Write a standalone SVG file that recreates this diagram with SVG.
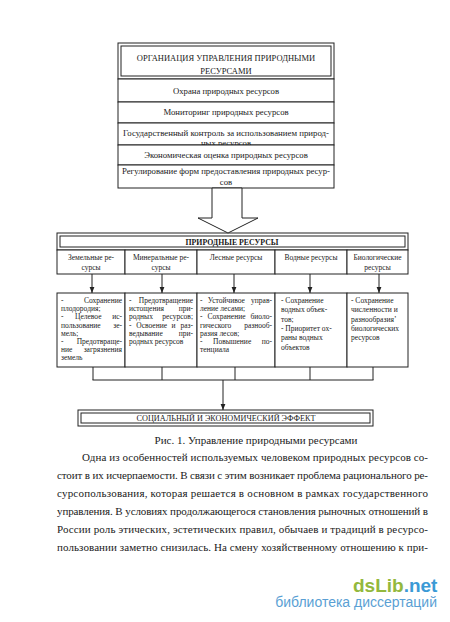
<svg xmlns="http://www.w3.org/2000/svg" width="450" height="622" viewBox="0 0 450 622">
<defs>
<marker id="ah" markerUnits="userSpaceOnUse" markerWidth="6" markerHeight="6" refX="6" refY="3" orient="auto"><path d="M0,0.6 L6,3 L0,5.4 z" fill="#222"/></marker>
</defs>
<style>
.b{fill:#fff;stroke:#222;stroke-width:1}
.ln{fill:none;stroke:#222;stroke-width:1}
text{font-family:"Liberation Serif","Times New Roman",serif;fill:#1a1a1a}
.tt{font-size:8.5px;text-anchor:middle}
.r{font-size:8.7px;text-anchor:middle}
.h{font-size:7.8px;font-weight:bold;text-anchor:middle}
.c{font-size:7.5px;text-anchor:middle}
.s{font-size:7.5px}
.e{text-anchor:end}
.p{font-size:11px}
</style>
<rect width="450" height="622" fill="#fff"/>

<g id="org-title">
<rect class="b" x="118" y="43" width="216" height="36"/>
<rect class="ln" x="121" y="46" width="210" height="30"/>
<text class="tt" x="226" y="61">ОРГАНИАЦИЯ УПРАВЛЕНИЯ ПРИРОДНЫМИ</text>
<text class="tt" x="226" y="74">РЕСУРСАМИ</text>
</g>
<g id="row-protection">
<rect class="b" x="118" y="79" width="216" height="23"/>
<text class="r" x="226" y="93.5">Охрана природных ресурсов</text>
</g>
<g id="row-monitoring">
<rect class="b" x="118" y="102" width="216" height="21"/>
<text class="r" x="226" y="115">Мониторинг природных ресурсов</text>
</g>
<g id="row-control">
<rect class="b" x="118" y="123" width="216" height="22"/>
<text class="r" x="226" y="136" textLength="206" lengthAdjust="spacingAndGlyphs">Государственный контроль за использованием природ-</text>
<text class="r" x="226" y="145.6">ных ресурсов</text>
</g>
<g id="row-economic">
<rect class="b" x="118" y="145" width="216" height="20"/>
<text class="r" x="226" y="158">Экономическая оценка природных ресурсов</text>
</g>
<g id="row-regulation">
<rect class="b" x="118" y="165" width="216" height="23"/>
<text class="r" x="226" y="174" textLength="208" lengthAdjust="spacingAndGlyphs">Регулирование форм предоставления природных ресур-</text>
<text class="r" x="226" y="185">сов</text>
</g>

<g id="natural-resources">
<rect class="b" x="57" y="233" width="351" height="17"/>
<rect class="ln" x="60" y="236" width="345" height="11"/>
<text class="h" x="232" y="245">ПРИРОДНЫЕ РЕСУРСЫ</text>
</g>
<g id="col-land">
<rect class="b" x="57" y="250" width="68" height="24"/>
<text class="c" x="91" y="260">Земельные ре-</text>
<text class="c" x="91" y="270">сурсы</text>
</g>
<g id="col-mineral">
<rect class="b" x="125" y="250" width="72" height="24"/>
<text class="c" x="161" y="260">Минеральные ре-</text>
<text class="c" x="161" y="270">сурсы</text>
</g>
<g id="col-forest">
<rect class="b" x="197" y="250" width="78" height="24"/>
<text class="c" x="236" y="260">Лесные ресурсы</text>
</g>
<g id="col-water">
<rect class="b" x="275" y="250" width="72" height="24"/>
<text class="c" x="311" y="260">Водные ресурсы</text>
</g>
<g id="col-bio">
<rect class="b" x="347" y="250" width="61" height="24"/>
<text class="c" x="377.5" y="260">Биологические</text>
<text class="c" x="377.5" y="270">ресурсы</text>
</g>

<g id="box-land">
<rect class="b" x="57" y="293" width="68" height="74"/>
<text class="s" y="303"><tspan x="61">-</tspan><tspan class="e" x="122">Сохранение</tspan></text>
<text class="s" x="61" y="311.2">плодородия;</text>
<text class="s" y="319.4"><tspan x="61">-</tspan><tspan x="75">Целевое</tspan><tspan class="e" x="122">ис-</tspan></text>
<text class="s" y="327.6"><tspan x="61">пользование</tspan><tspan class="e" x="122">зе-</tspan></text>
<text class="s" x="61" y="335.8">мель;</text>
<text class="s" y="344"><tspan x="61">-</tspan><tspan class="e" x="122">Предотвраще-</tspan></text>
<text class="s" y="352.2"><tspan x="61">ние</tspan><tspan class="e" x="122">загрязнения</tspan></text>
<text class="s" x="61" y="360.4">земель</text>
</g>
<g id="box-mineral">
<rect class="b" x="125" y="293" width="72" height="74"/>
<text class="s" y="303"><tspan x="129">-</tspan><tspan class="e" x="193">Предотвращение</tspan></text>
<text class="s" y="311.2"><tspan x="129">истощения</tspan><tspan class="e" x="193">при-</tspan></text>
<text class="s" y="319.4"><tspan x="129">родных</tspan><tspan class="e" x="193">ресурсов;</tspan></text>
<text class="s" y="327.6"><tspan x="129">-</tspan><tspan x="136.3">Освоение</tspan><tspan x="171.5">и</tspan><tspan class="e" x="193">раз-</tspan></text>
<text class="s" y="335.8"><tspan x="129">ведывание</tspan><tspan class="e" x="193">при-</tspan></text>
<text class="s" x="129" y="344">родных ресурсов</text>
</g>
<g id="box-forest">
<rect class="b" x="197" y="293" width="78" height="74"/>
<text class="s" y="303"><tspan x="200">-</tspan><tspan x="207.8">Устойчивое</tspan><tspan class="e" x="272">управ-</tspan></text>
<text class="s" x="200" y="311.2">ление лесами;</text>
<text class="s" y="319.4"><tspan x="200">-</tspan><tspan x="207.4">Сохранение</tspan><tspan class="e" x="272">биоло-</tspan></text>
<text class="s" y="327.6"><tspan x="200">гического</tspan><tspan class="e" x="272">разнооб-</tspan></text>
<text class="s" x="200" y="335.8">разия лесов;</text>
<text class="s" y="344"><tspan x="200">-</tspan><tspan x="213">Повышение</tspan><tspan class="e" x="272">по-</tspan></text>
<text class="s" x="200" y="352.2">тенциала</text>
</g>
<g id="box-water">
<rect class="b" x="275" y="293" width="72" height="74"/>
<text class="s" x="281" y="303">- Сохранение</text>
<text class="s" x="281" y="312.3">водных объек-</text>
<text class="s" x="281" y="321.6">тов;</text>
<text class="s" x="281" y="330.9">- Приоритет ох-</text>
<text class="s" x="281" y="340.2">раны водных</text>
<text class="s" x="281" y="349.5">объектов</text>
</g>
<g id="box-bio">
<rect class="b" x="347" y="293" width="61" height="74"/>
<text class="s" x="351" y="303">- Сохранение</text>
<text class="s" x="351" y="312.3">численности и</text>
<text class="s" x="351" y="321.6">разнообразия’</text>
<text class="s" x="351" y="330.9">биологических</text>
<text class="s" x="351" y="340.2">ресурсов</text>
</g>

<g id="effect">
<rect class="b" x="78" y="410" width="295" height="16"/>
<rect class="ln" x="81" y="413" width="289" height="10"/>
<text class="tt" x="226" y="421" style="font-size:8.2px">СОЦИАЛЬНЫЙ И ЭКОНОМИЧЕСКИЙ ЭФФЕКТ</text>
</g>

<g id="connectors">
<polygon class="b" points="212,188 212,218 198,218 228,233 258,218 242,218 242,188"/>
<line class="ln" x1="92" y1="274" x2="92" y2="293" marker-end="url(#ah)"/>
<line class="ln" x1="162" y1="274" x2="162" y2="293" marker-end="url(#ah)"/>
<line class="ln" x1="234" y1="274" x2="234" y2="293" marker-end="url(#ah)"/>
<line class="ln" x1="310" y1="274" x2="310" y2="293" marker-end="url(#ah)"/>
<line class="ln" x1="379" y1="274" x2="379" y2="293" marker-end="url(#ah)"/>
<path class="ln" d="M93,367 V380 M162,367 V380 M235,367 V380 M310,367 V380 M373,367 V380 M92.5,380 H373.5"/>
<line class="ln" x1="223" y1="380" x2="223" y2="410" marker-end="url(#ah)"/>
</g>

<text class="p" x="256" y="444" text-anchor="middle">Рис. 1. Управление природными ресурсами</text>
<text class="p" x="82" y="461" textLength="346" lengthAdjust="spacing">Одна из особенностей используемых человеком природных ресурсов со-</text>
<text class="p" x="57" y="479" textLength="371" lengthAdjust="spacing">стоит в их исчерпаемости. В связи с этим возникает проблема рационального ре-</text>
<text class="p" x="57" y="497" textLength="371" lengthAdjust="spacing">сурсопользования, которая решается в основном в рамках государственного</text>
<text class="p" x="57" y="515" textLength="371" lengthAdjust="spacing">управления. В условиях продолжающегося становления рыночных отношений в</text>
<text class="p" x="57" y="533" textLength="371" lengthAdjust="spacing">России роль этических, эстетических правил, обычаев и традиций в ресурсо-</text>
<text class="p" x="57" y="551" textLength="371" lengthAdjust="spacing">пользовании заметно снизилась. На смену хозяйственному отношению к при-</text>

<text x="353" y="592" style="font-family:'Liberation Sans',Arial,sans-serif;font-size:19px;font-weight:bold"><tspan fill="#93b83d">dsLib</tspan><tspan fill="#3b9ad6">.net</tspan></text>
<text x="437" y="607" text-anchor="end" style="font-family:'Liberation Sans',Arial,sans-serif;font-size:14px;fill:#5a9fd4">библиотека диссертаций</text>
</svg>
